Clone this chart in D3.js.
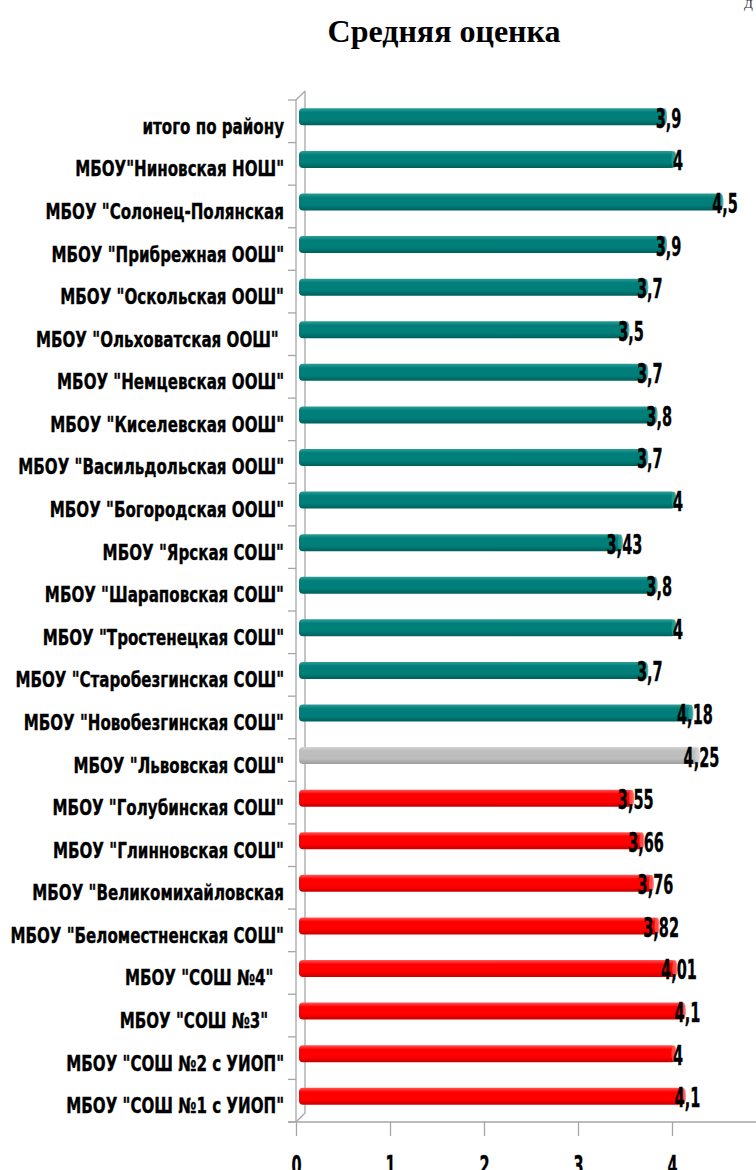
<!DOCTYPE html>
<html>
<head>
<meta charset="utf-8">
<script src="https://cdn.jsdelivr.net/npm/d3@7"></script>
<style>
  html, body { margin: 0; padding: 0; background: #fff; }
  svg { display: block; }
  .cat { font-family: "Liberation Sans Narrow", "Arial Narrow", "DejaVu Sans Condensed", sans-serif; font-weight: bold; white-space: pre; stroke: #000; stroke-width: 0.35px; }
</style>
</head>
<body>
<div id="chart"></div>
<script>
const schools = [
  "итого по району",
  "МБОУ\"Ниновская НОШ\"",
  "МБОУ \"Солонец-Полянская",
  "МБОУ \"Прибрежная ООШ\"",
  "МБОУ \"Оскольская ООШ\"",
  "МБОУ \"Ольховатская ООШ\" ",
  "МБОУ \"Немцевская ООШ\"",
  "МБОУ \"Киселевская ООШ\"",
  "МБОУ \"Васильдольская ООШ\"",
  "МБОУ \"Богородская ООШ\"",
  "МБОУ \"Ярская СОШ\"",
  "МБОУ \"Шараповская СОШ\"",
  "МБОУ \"Тростенецкая СОШ\"",
  "МБОУ \"Старобезгинская СОШ\"",
  "МБОУ \"Новобезгинская СОШ\"",
  "МБОУ \"Львовская СОШ\"",
  "МБОУ \"Голубинская СОШ\"",
  "МБОУ \"Глинновская СОШ\"",
  "МБОУ \"Великомихайловская",
  "МБОУ \"Беломестненская СОШ\"",
  "МБОУ \"СОШ №4\"  ",
  "МБОУ \"СОШ №3\"   ",
  "МБОУ \"СОШ №2 с УИОП\"",
  "МБОУ \"СОШ №1 с УИОП\""
];
const scores = [3.9, 4, 4.5, 3.9, 3.7, 3.5, 3.7, 3.8, 3.7, 4, 3.43, 3.8, 4, 3.7, 4.18,
                4.25, 3.55, 3.66, 3.76, 3.82, 4.01, 4.1, 4, 4.1];
const groups = ["район","район","район","район","район","район","район","район","район","район",
                "район","район","район","район","район","Львовская",
                "город","город","город","город","город","город","город","город"];
const xTicks = [0, 1, 2, 3, 4, 5];
const title = "Средняя оценка";

const W = 756, H = 1170;
const x0 = 296, plotTop = 100, plotBottom = 1122;
const depth = 9;     // 3d wall offset
const barDepth = 3;  // bars sit a little behind the front axis
const squeeze = 0.8, numSqueeze = 0.62;  // narrow the fallback font

const svg = d3.select("#chart").append("svg")
    .attr("width", W).attr("height", H);

const data = schools.map((s, i) => ({ name: s, value: scores[i], group: groups[i], i }));

const x = d3.scaleLinear().domain([0, 5]).range([x0, x0 + 470]);
const y = d3.scaleBand().domain(d3.range(schools.length)).range([plotTop, plotBottom]).padding(0);

const palette = {
  "район":     ["#2c9e98", "#007e79", "#005f5b"],
  "Львовская": ["#d2d2d2", "#bdbdbd", "#9c9c9c"],
  "город":     ["#ff5a5a", "#ff0000", "#c80000"]
};
const color = d3.scaleOrdinal().domain(Object.keys(palette)).range(Object.values(palette));

const defs = svg.append("defs");
color.domain().forEach((g, k) => {
  const c = color(g);
  const grad = defs.append("linearGradient").attr("id", "grad" + k)
      .attr("x1", 0).attr("y1", 0).attr("x2", 0).attr("y2", 1);
  grad.append("stop").attr("offset", "0%").attr("stop-color", c[0]);
  grad.append("stop").attr("offset", "25%").attr("stop-color", c[1]);
  grad.append("stop").attr("offset", "70%").attr("stop-color", c[1]);
  grad.append("stop").attr("offset", "100%").attr("stop-color", c[2]);
});
const gradId = g => "url(#grad" + color.domain().indexOf(g) + ")";

// title
svg.append("text")
    .attr("x", 444).attr("y", 42)
    .attr("text-anchor", "middle")
    .style("font-family", "'Liberation Serif', 'Times New Roman', serif")
    .style("font-weight", "bold")
    .style("font-size", "32px")
    .text(title);

svg.append("text")
    .attr("x", 744).attr("y", 8)
    .style("font-family", "'Liberation Serif', serif")
    .style("font-size", "13px")
    .attr("fill", "#333")
    .text("Д");

// 3d walls
const axisColor = "#a6a6a6";
const walls = svg.append("g").attr("stroke", axisColor).attr("stroke-width", 1.3).attr("fill", "none");
walls.append("line").attr("x1", x0 + depth).attr("x2", x0 + depth)
    .attr("y1", plotTop - depth).attr("y2", plotBottom - depth);
walls.append("line").attr("x1", x0).attr("y1", plotTop).attr("x2", x0 + depth).attr("y2", plotTop - depth);
walls.append("line").attr("x1", x0).attr("y1", plotBottom).attr("x2", x0 + depth).attr("y2", plotBottom - depth);

// front vertical axis with category ticks
const left = svg.append("g").attr("stroke", axisColor).attr("stroke-width", 1.3);
left.append("line").attr("x1", x0).attr("x2", x0).attr("y1", plotTop).attr("y2", plotBottom);
left.selectAll(".tk")
    .data(d3.range(schools.length + 1))
    .join("line")
    .attr("x1", x0 - 8).attr("x2", x0)
    .attr("y1", i => plotTop + i * y.step())
    .attr("y2", i => plotTop + i * y.step());

// bottom axis
const bottom = svg.append("g").attr("transform", `translate(0,${plotBottom})`);
bottom.append("line").attr("x1", x0 - 8).attr("x2", W).attr("stroke", axisColor).attr("stroke-width", 1.3);
bottom.call(d3.axisBottom(x).tickValues(xTicks).tickSize(14).tickSizeOuter(0).tickFormat(d3.format("d")))
    .call(g => g.select(".domain").remove())
    .call(g => g.selectAll(".tick line").attr("stroke", axisColor).attr("stroke-width", 1.3))
    .call(g => g.selectAll(".tick text")
        .attr("class", "cat")
        .attr("y", 53)
        .attr("dy", 0)
        .attr("transform", `scale(${numSqueeze},1)`)
        .attr("fill", "#000")
        .style("font-size", "26px"));

// bars
const barH = 17;
const cy = d => y(d.i) + y.bandwidth() / 2 - 4.5;

const bars = svg.append("g").selectAll("g")
    .data(data)
    .join("g");

bars.append("rect")
    .attr("x", x(0) + barDepth)
    .attr("y", d => cy(d) - barH / 2)
    .attr("width", d => x(d.value) - x(0))
    .attr("height", barH)
    .attr("rx", 4).attr("ry", 4)
    .attr("fill", d => gradId(d.group));

bars.append("ellipse")
    .attr("cx", d => x(d.value) + barDepth - 1)
    .attr("cy", cy)
    .attr("rx", 2.5).attr("ry", barH / 2)
    .attr("fill", d => color(d.group)[0])
    .attr("opacity", 0.8);

// category labels
svg.append("g").selectAll("text")
    .data(data)
    .join("text")
    .attr("class", "cat")
    .attr("transform", d => `translate(284,${cy(d) + 17}) scale(${squeeze},1)`)
    .attr("text-anchor", "end")
    .style("font-size", "21px")
    .text(d => d.name);

// value labels
const fmt = v => String(v).replace(".", ",");
svg.append("g").selectAll("text")
    .data(data)
    .join("text")
    .attr("class", "cat")
    .attr("transform", d => `translate(${x(d.value) + 6},${cy(d) + 11}) scale(${numSqueeze},1)`)
    .attr("text-anchor", "middle")
    .style("font-size", "26px")
    .text(d => fmt(d.value));
</script>
</body>
</html>
